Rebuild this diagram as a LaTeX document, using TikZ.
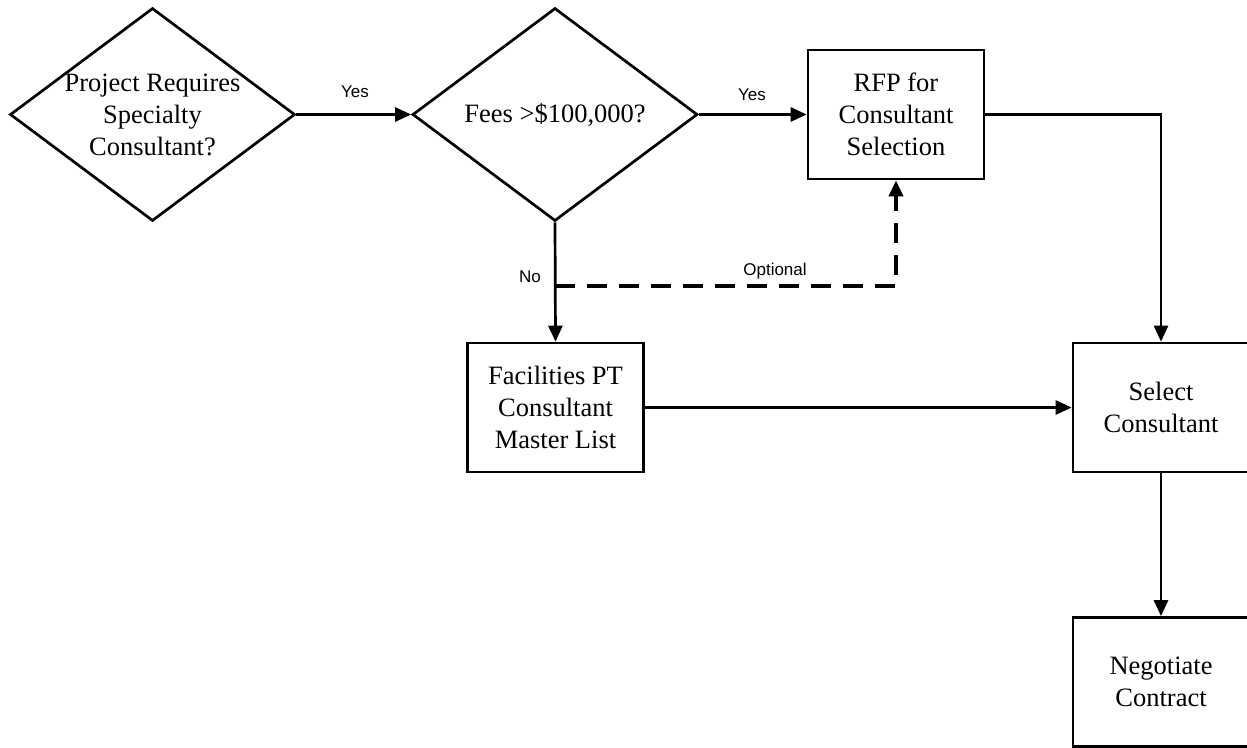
\documentclass[tikz,border=0pt]{standalone}
\usepackage{fontspec}
\setmainfont{Liberation Serif}
\newfontfamily\lblfont{Liberation Sans}
\usetikzlibrary{shapes.geometric,arrows.meta}
\tikzset{
  txt/.style={inner sep=0pt, align=center, font=\fontsize{26.5}{32}\selectfont},
  base/.style={txt, draw=black, line width=2.7pt},
  decide/.style={base, diamond, minimum width=285pt, minimum height=213pt},
  stepbox/.style={base, rectangle, minimum width=176pt, minimum height=129pt},
  arr/.style={line width=2.7pt, -{Triangle[length=16pt,width=14pt]}},
  dsh/.style={line width=3.8pt, dash pattern=on 20pt off 12pt, -{Triangle[length=16pt,width=14pt]}},
  lbl/.style={font=\lblfont\fontsize{17}{20}\selectfont, inner sep=0pt}
}
\begin{document}
\begin{tikzpicture}[x=1pt,y=-1pt]
\useasboundingbox (0,0) rectangle (1247,747);
\node[decide] (d1) at (152.5,114.5) {};
\node[txt] (d1t) at (d1.center) {Project Requires\\Specialty\\Consultant?};
\node[decide] (d2) at (555,114.5) {};
\node[txt] (d2t) at (d2.center) {Fees >\$100,000?};
\node[stepbox] (rfp) at (896,114.5) {RFP for\\Consultant\\Selection};
\node[stepbox] (fac) at (555.5,407.5) {Facilities PT\\Consultant\\Master List};
\node[stepbox] (sel) at (1161,407.5) {Select\\Consultant};
\node[stepbox] (neg) at (1161,682) {Negotiate\\Contract};
\coordinate (j) at (555,286);
\draw[arr] (d1.east) -- (d2.west);
\draw[arr] (d2.east) -- (rfp.west);
\draw[arr] (rfp.east) -| (sel.north);
\draw[arr] (d2.south) -- (fac.north);
\draw[dsh] (j) -| (rfp.south);
\draw[arr] (fac.east) -- (sel.west);
\draw[arr] (sel.south) -- (neg.north);
\node[lbl] (y1) at (355,92) {Yes};
\node[lbl] (y2) at (752,95) {Yes};
\node[lbl] (no) at (530,277) {No};
\node[lbl] (opt) at (775,271) {Optional};
\end{tikzpicture}
\end{document}
